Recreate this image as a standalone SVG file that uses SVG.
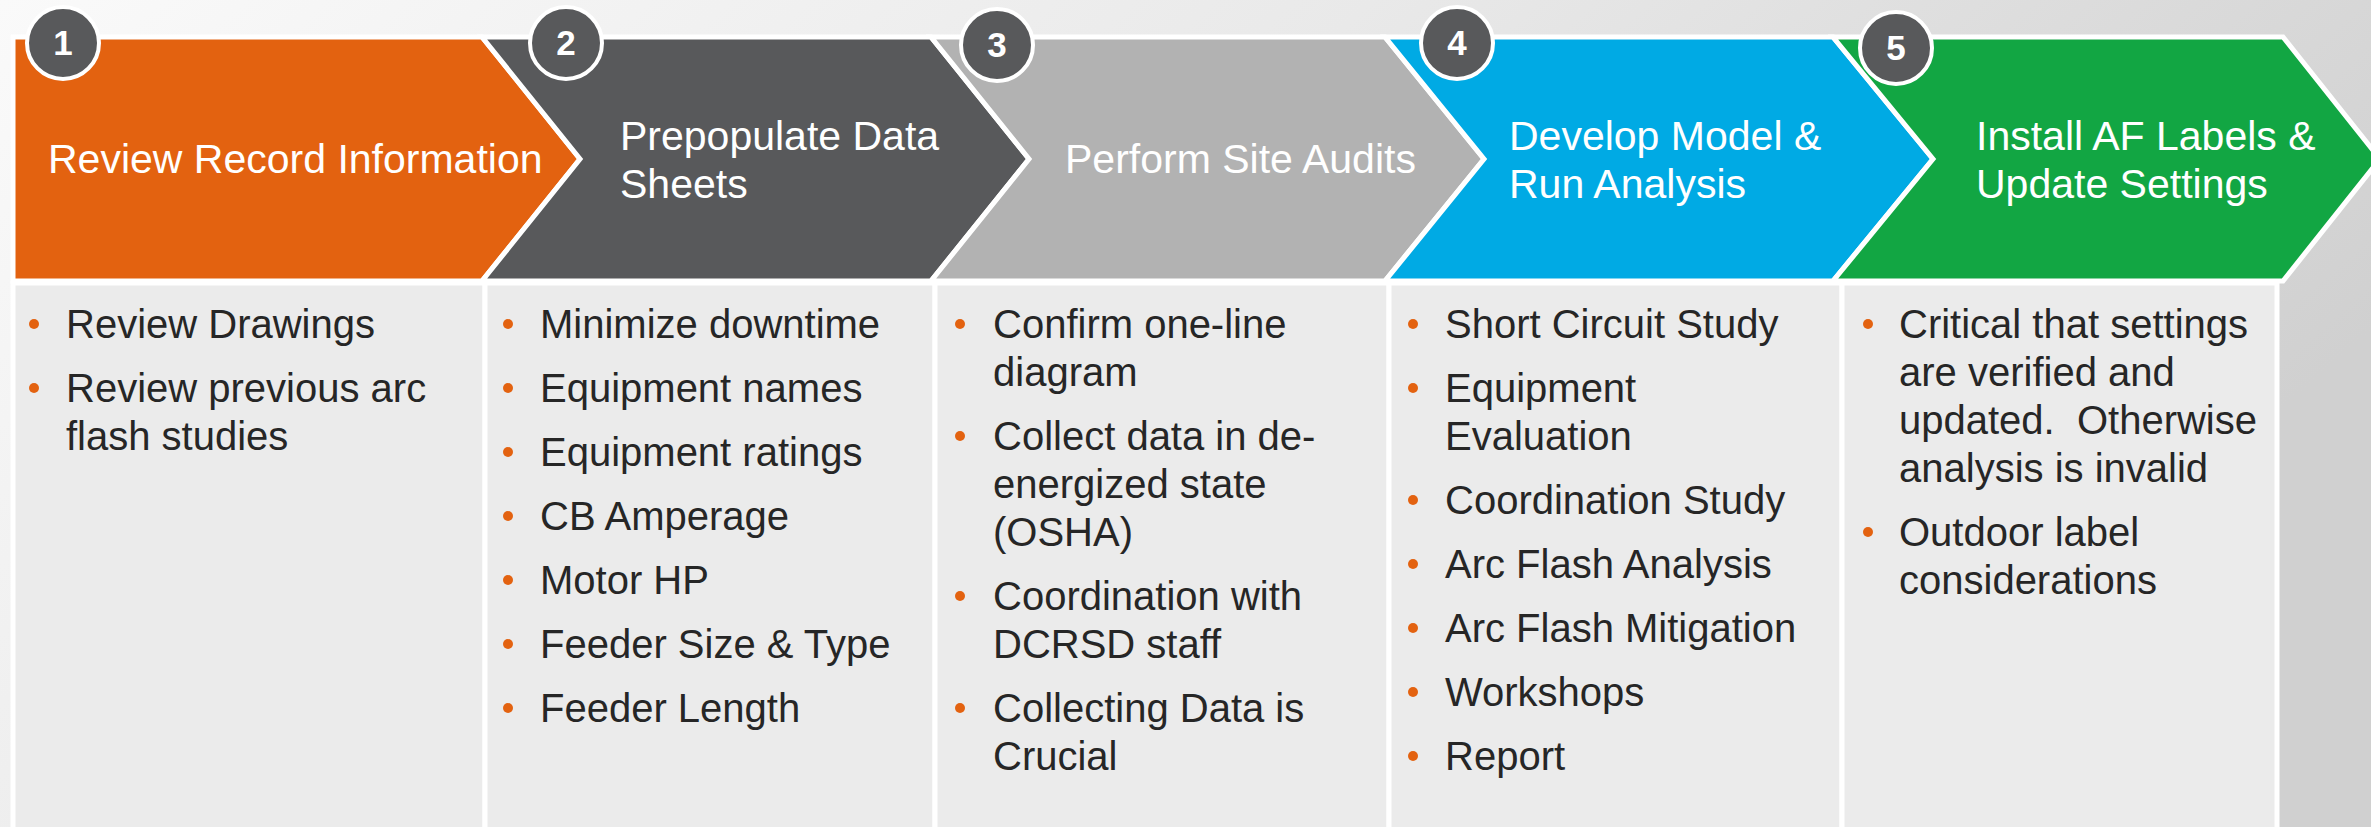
<svg xmlns="http://www.w3.org/2000/svg" width="2371" height="827" viewBox="0 0 2371 827">
<defs>
<linearGradient id="bg" x1="0" y1="0" x2="1" y2="0.4">
<stop offset="0" stop-color="#FAFAFA"/>
<stop offset="0.5" stop-color="#E9E9E9"/>
<stop offset="1" stop-color="#D0D0D0"/>
</linearGradient>
<style>
.chev{stroke:#FFFFFF;stroke-width:5;stroke-linejoin:miter}
.panel{fill:#EBEBEB;stroke:#FFFFFF;stroke-width:5}
.num{fill:#58595B;stroke:#FFFFFF;stroke-width:4}
.numt{font-family:"Liberation Sans",Arial,sans-serif;font-weight:bold;font-size:35px;fill:#FFFFFF;text-anchor:middle}
.head{font-family:"Liberation Sans",Arial,sans-serif;font-size:41px;fill:#FFFFFF}
.item{font-family:"Liberation Sans",Arial,sans-serif;font-size:40px;fill:#262626}
.dot{fill:#E36210}
</style>
</defs>
<rect x="0" y="0" width="2371" height="827" fill="url(#bg)"/>

<g id="panels">
<rect class="panel" x="13" y="283" width="472" height="560"/>
<rect class="panel" x="485" y="283" width="450" height="560"/>
<rect class="panel" x="935" y="283" width="454" height="560"/>
<rect class="panel" x="1389" y="283" width="453" height="560"/>
<rect class="panel" x="1842" y="283" width="435" height="560"/>
</g>

<g id="step1">
<polygon class="chev" fill="#E36210" points="13,37 482,37 580,159 482,281 13,281"/>
<text class="head" x="48" y="173">Review Record Information</text>
<circle class="num" cx="63" cy="43" r="36"/>
<text class="numt" x="63" y="55">1</text>
<circle class="dot" cx="34" cy="324" r="5"/>
<text class="item" x="66" y="338">Review Drawings</text>
<circle class="dot" cx="34" cy="388" r="5"/>
<text class="item" x="66" y="402">Review previous arc</text>
<text class="item" x="66" y="450">flash studies</text>
</g>

<g id="step2">
<polygon class="chev" fill="#58595B" points="482,37 931,37 1029,159 931,281 482,281 580,159"/>
<text class="head" x="620" y="150">Prepopulate Data</text>
<text class="head" x="620" y="198">Sheets</text>
<circle class="num" cx="566" cy="43" r="36"/>
<text class="numt" x="566" y="55">2</text>
<circle class="dot" cx="508" cy="324" r="5"/>
<text class="item" x="540" y="338">Minimize downtime</text>
<circle class="dot" cx="508" cy="388" r="5"/>
<text class="item" x="540" y="402">Equipment names</text>
<circle class="dot" cx="508" cy="452" r="5"/>
<text class="item" x="540" y="466">Equipment ratings</text>
<circle class="dot" cx="508" cy="516" r="5"/>
<text class="item" x="540" y="530">CB Amperage</text>
<circle class="dot" cx="508" cy="580" r="5"/>
<text class="item" x="540" y="594">Motor HP</text>
<circle class="dot" cx="508" cy="644" r="5"/>
<text class="item" x="540" y="658">Feeder Size &amp; Type</text>
<circle class="dot" cx="508" cy="708" r="5"/>
<text class="item" x="540" y="722">Feeder Length</text>
</g>

<g id="step3">
<polygon class="chev" fill="#B2B2B2" points="931,37 1385,37 1484,159 1385,281 931,281 1029,159"/>
<text class="head" x="1065" y="173">Perform Site Audits</text>
<circle class="num" cx="997" cy="45" r="36"/>
<text class="numt" x="997" y="57">3</text>
<circle class="dot" cx="960" cy="324" r="5"/>
<text class="item" x="993" y="338">Confirm one-line</text>
<text class="item" x="993" y="386">diagram</text>
<circle class="dot" cx="960" cy="436" r="5"/>
<text class="item" x="993" y="450">Collect data in de-</text>
<text class="item" x="993" y="498">energized state</text>
<text class="item" x="993" y="546">(OSHA)</text>
<circle class="dot" cx="960" cy="596" r="5"/>
<text class="item" x="993" y="610">Coordination with</text>
<text class="item" x="993" y="658">DCRSD staff</text>
<circle class="dot" cx="960" cy="708" r="5"/>
<text class="item" x="993" y="722">Collecting Data is</text>
<text class="item" x="993" y="770">Crucial</text>
</g>

<g id="step4">
<polygon class="chev" fill="#00AAE4" points="1385,37 1833,37 1933,159 1833,281 1385,281 1484,159"/>
<text class="head" x="1509" y="150">Develop Model &amp;</text>
<text class="head" x="1509" y="198">Run Analysis</text>
<circle class="num" cx="1457" cy="43" r="36"/>
<text class="numt" x="1457" y="55">4</text>
<circle class="dot" cx="1413" cy="324" r="5"/>
<text class="item" x="1445" y="338">Short Circuit Study</text>
<circle class="dot" cx="1413" cy="388" r="5"/>
<text class="item" x="1445" y="402">Equipment</text>
<text class="item" x="1445" y="450">Evaluation</text>
<circle class="dot" cx="1413" cy="500" r="5"/>
<text class="item" x="1445" y="514">Coordination Study</text>
<circle class="dot" cx="1413" cy="564" r="5"/>
<text class="item" x="1445" y="578">Arc Flash Analysis</text>
<circle class="dot" cx="1413" cy="628" r="5"/>
<text class="item" x="1445" y="642">Arc Flash Mitigation</text>
<circle class="dot" cx="1413" cy="692" r="5"/>
<text class="item" x="1445" y="706">Workshops</text>
<circle class="dot" cx="1413" cy="756" r="5"/>
<text class="item" x="1445" y="770">Report</text>
</g>

<g id="step5">
<polygon class="chev" fill="#12A643" points="1833,37 2283,37 2380,159 2283,281 1833,281 1933,159"/>
<text class="head" x="1976" y="150">Install AF Labels &amp;</text>
<text class="head" x="1976" y="198">Update Settings</text>
<circle class="num" cx="1896" cy="48" r="36"/>
<text class="numt" x="1896" y="60">5</text>
<circle class="dot" cx="1868" cy="324" r="5"/>
<text class="item" x="1899" y="338">Critical that settings</text>
<text class="item" x="1899" y="386">are verified and</text>
<text class="item" x="1899" y="434" xml:space="preserve">updated.  Otherwise</text>
<text class="item" x="1899" y="482">analysis is invalid</text>
<circle class="dot" cx="1868" cy="532" r="5"/>
<text class="item" x="1899" y="546">Outdoor label</text>
<text class="item" x="1899" y="594">considerations</text>
</g>

<g id="connectors"></g>
</svg>
